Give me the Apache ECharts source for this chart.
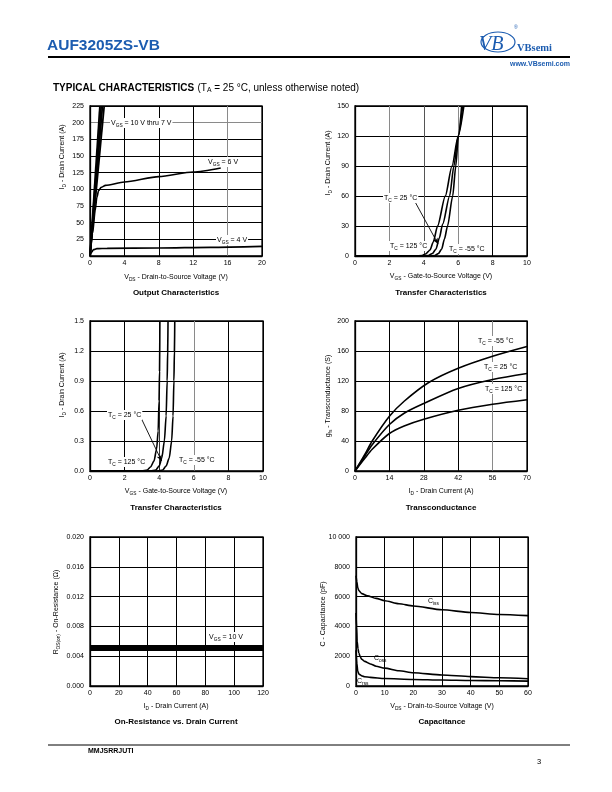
<!DOCTYPE html>
<html>
<head>
<meta charset="utf-8">
<script src="https://cdn.jsdelivr.net/npm/echarts@6/dist/echarts.min.js"></script>
<style>
html,body{margin:0;padding:0;background:#fff;}
#c{width:612px;height:792px;}
</style>
</head>
<body>
<div id="c"></div>
<script>
// ---------- DATA ----------
// Output characteristics (VDS, ID)
const outVgs10 = [[0,0],[1.15,225]];
const outVgs9  = [[0,0],[1.3,225]];
const outVgs8  = [[0,0],[1.45,225]];
const outVgs7  = [[0,0],[1.65,225]];
const outVgs6  = [[0,0],[0.3,34],[0.6,68],[0.8,88],[1.0,98],[1.3,103],[1.8,106],[4,111],[8,119],[12,126],[15.2,132]];
const outVgs4  = [[0,0],[0.2,6],[0.4,9.5],[0.8,11],[2,11.5],[8,12],[14,13],[20,14.5]];

// Transfer characteristics, high current (VGS, ID)
const trHi125 = [[0,0],[3.5,0],[3.9,0.5],[4.1,2],[4.36,6],[4.55,14],[4.8,30],[5.25,60],[5.64,90],[6.0,120],[6.33,150]];
const trHi25  = [[0,0],[3.9,0],[4.26,0.5],[4.5,2.5],[4.71,7],[4.9,18],[5.1,32],[5.5,60],[5.75,90],[6.0,120],[6.26,150]];
const trHiM55 = [[0,0],[4.3,0],[4.65,0.5],[4.85,2.5],[5.04,7],[5.2,17],[5.38,30],[5.68,60],[5.86,90],[6.01,120],[6.2,150]];

// Transfer characteristics, low current (VGS, ID)
const trLo125 = [[0,0],[3.0,0],[3.3,0.01],[3.5,0.04],[3.7,0.1],[3.85,0.22],[3.94,0.4],[3.99,0.7],[4.02,1.0],[4.04,1.5]];
const trLo25  = [[0,0],[3.5,0],[3.8,0.01],[4.0,0.05],[4.15,0.13],[4.3,0.3],[4.4,0.55],[4.46,0.9],[4.49,1.2],[4.51,1.5]];
const trLoM55 = [[0,0],[3.9,0],[4.2,0.01],[4.4,0.05],[4.58,0.13],[4.72,0.3],[4.8,0.55],[4.85,0.9],[4.88,1.2],[4.9,1.5]];

// Transconductance (ID, gfs)
const gfsM55 = [[0,0],[4,22],[7,40],[14,73],[20,93],[30,118],[42,137],[56,153],[70,166]];
const gfs25  = [[0,0],[4,20],[7,35],[14,62],[20,77],[28,90],[42,110],[56,122],[70,130]];
const gfs125 = [[0,0],[4,17],[7,29],[14,50],[20,60],[28,69],[42,81],[56,89],[70,95]];

// On-resistance (ID, RDS(on))
const rdsCurrent = [0,20,40,60,80,100,120];
const rdsValue   = [0.0051,0.0051,0.0051,0.0051,0.0051,0.0051,0.0051];

// Capacitance (VDS, C)
const cIss = [[0,7400],[0.3,7000],[0.6,6600],[1,6400],[2,6200],[4,6050],[7,5880],[10,5720],[15,5520],[20,5370],[30,5120],[40,4930],[50,4800],[60,4720]];
const cOss = [[0,4900],[0.2,4000],[0.4,3000],[0.7,2500],[1,2200],[1.5,1950],[2,1800],[3,1650],[5,1480],[7,1330],[10,1200],[15,1020],[20,890],[30,740],[40,630],[50,550],[60,490]];
const cRss = [[0,2400],[0.3,1500],[0.6,1000],[1,800],[2,680],[3,620],[5,580],[10,500],[20,440],[30,400],[40,370],[50,350],[60,330]];

// Axis ranges [min, max, interval]
const axOutX = [0,20,4],   axOutY = [0,225,25];
const axTrHX = [0,10,2],   axTrHY = [0,150,30];
const axTrLX = [0,10,2],   axTrLY = [0,1.5,0.3];
const axGfsX = [0,70,14],  axGfsY = [0,200,40];
const axRdsX = [0,120,20], axRdsY = [0,0.02,0.004];
const axCapX = [0,60,10],  axCapY = [0,10000,2000];

// ---------- STYLE HELPERS ----------
const FF = "'Liberation Sans', Arial, sans-serif";
const BLUE = '#1c5cb0';
const richBase = {
  n:{fontSize:7, fontFamily:FF, color:'#000', lineHeight:10},
  s:{fontSize:4.8, fontFamily:FF, color:'#000', lineHeight:5, verticalAlign:'bottom'},
  g:{fontSize:7, fontFamily:FF, color:'#444', lineHeight:10},
  gs:{fontSize:4.8, fontFamily:FF, color:'#444', lineHeight:5, verticalAlign:'bottom'}
};
function sub(a, s, b){ return '{n|'+a+'}{s|'+s+'}' + (b ? '{n|'+b+'}' : ''); }
function gsub(a, s, b){ return '{g|'+a+'}{gs|'+s+'}{g|'+b+'}'; }

function txt(x, y, text, opt){
  opt = opt || {};
  return {
    type:'text', x:x, y:y, z:100, rotation: opt.rot || 0, silent:true,
    style:{
      text:text, rich:richBase, fontSize: opt.size || 7, fontFamily: opt.family || FF,
      fontWeight: opt.bold ? 'bold' : 'normal', fill: opt.color || '#000',
      align: opt.align || 'left', verticalAlign: opt.va || 'middle',
      backgroundColor: opt.bg || null, padding: opt.bg ? [0,1,0,1] : 0
    }
  };
}

const grids = [
  {left:90, top:106, width:172, height:150},
  {left:355, top:106, width:172, height:150},
  {left:90, top:321, width:173, height:150},
  {left:355, top:321, width:172, height:150},
  {left:90, top:537, width:173, height:149},
  {left:356, top:537, width:172, height:149}
].map(g => Object.assign({show:true, borderColor:'#000', borderWidth:1.3, backgroundColor:'#fff', containLabel:false}, g));

function axis(idx, r, colors, fmt, isY){
  return {
    type:'value', gridIndex:idx, min:r[0], max:r[1], interval:r[2],
    axisLine:{show:true, onZero:false, lineStyle:{color:'#000', width:1.3}},
    axisTick:{show:false},
    axisLabel:{fontSize:7, fontFamily:FF, color:'#000', margin: isY ? 6 : 4, formatter: fmt},
    splitLine:{show:true, lineStyle:{color: colors || '#000', width:1}}
  };
}

function line(xi, data, w, extra){
  return Object.assign({
    type:'line', xAxisIndex:xi, yAxisIndex:xi, data:data, showSymbol:false, symbol:'none',
    smooth:0.3, animation:false, silent:true,
    lineStyle:{color:'#000', width: w || 1.6}
  }, extra || {});
}
const mono = {smooth:0.25, smoothMonotone:'x'};

const arrow = (from, to) => ({
  silent:true, animation:false, symbol:['none','arrow'], symbolSize:[4,6],
  lineStyle:{color:'#000', width:0.9, type:'solid'}, label:{show:false},
  data:[[{coord:from},{coord:to}]]
});

const G = '#8a8a8a';
const xAxes = [
  axis(0, axOutX, ['#000','#000','#000','#000',G,'#000']),
  axis(1, axTrHX, ['#000',G,'#555',G,'#000','#000']),
  axis(2, axTrLX, ['#000','#000','#333',G,'#000','#000']),
  axis(3, axGfsX, ['#000','#000','#000','#000',G,'#000']),
  axis(4, axRdsX),
  axis(5, axCapX)
];
const yAxes = [
  axis(0, axOutY, ['#000','#000','#000','#000','#000','#000','#000','#000',G,'#000'], null, true),
  axis(1, axTrHY, null, null, true),
  axis(2, axTrLY, null, v => v.toFixed(1), true),
  axis(3, axGfsY, null, null, true),
  axis(4, axRdsY, null, v => v.toFixed(3), true),
  axis(5, axCapY, null, v => v === 10000 ? '10 000' : String(v), true)
];

const series = [
  line(0, outVgs10, 1.8, {smooth:false}),
  line(0, outVgs9, 1.8, {smooth:false}),
  line(0, outVgs8, 1.8, {smooth:false}),
  line(0, outVgs7, 1.8, {smooth:false}),
  line(0, outVgs6, 1.6, mono),
  line(0, outVgs4, 1.6, mono),
  line(1, trHi125, 1.6, mono),
  line(1, trHi25, 1.6, Object.assign({markLine: arrow([3.37,58],[4.83,12])}, mono)),
  line(1, trHiM55, 1.6, mono),
  line(2, trLo125, 1.6, mono),
  line(2, trLo25, 1.6, Object.assign({markLine: arrow([2.9,0.55],[4.14,0.1])}, mono)),
  line(2, trLoM55, 1.6, mono),
  line(3, gfsM55, 1.6),
  line(3, gfs25, 1.6),
  line(3, gfs125, 1.6),
  line(4, rdsCurrent.map((x,i)=>[x, rdsValue[i]]), 6, {smooth:false}),
  line(5, cIss, 1.6, mono),
  line(5, cOss, 1.6, mono),
  line(5, cRss, 1.6, mono)
];

const graphics = [
  // header
  txt(47, 46, 'AUF3205ZS-VB', {size:15.5, bold:true, color:BLUE}),
  {type:'line', z:100, silent:true, shape:{x1:48, y1:57, x2:570, y2:57}, style:{stroke:'#000', lineWidth:2}},
  {type:'text', z:100, silent:true, x:479, y:45, style:{text:'VB', fontSize:20, fontStyle:'italic', fontFamily:"'Liberation Serif', serif", fill:BLUE, align:'left', verticalAlign:'middle'}},
  {type:'ellipse', z:100, silent:true, shape:{cx:498, cy:42, rx:17, ry:10}, style:{fill:'none', stroke:BLUE, lineWidth:1.2}},
  txt(517, 48, 'VBsemi', {size:10.5, bold:true, color:BLUE, family:"'Liberation Serif', serif"}),
  txt(514, 28, '®', {size:5, color:BLUE}),
  txt(570, 64, 'www.VBsemi.com', {size:7, bold:true, color:BLUE, align:'right'}),
  // section heading
  {type:'text', z:100, silent:true, x:53, y:88, style:{
    text:'{b|TYPICAL CHARACTERISTICS} {r|(T}{rs|A}{r| = 25 °C, unless otherwise noted)}',
    rich:{
      b:{fontSize:10, fontWeight:'bold', fontFamily:FF, color:'#000', lineHeight:12},
      r:{fontSize:10, fontFamily:FF, color:'#000', lineHeight:12},
      rs:{fontSize:6.8, fontFamily:FF, color:'#000', lineHeight:6, verticalAlign:'bottom'}
    }, align:'left', verticalAlign:'middle'}},

  // chart 1
  txt(110, 123, sub('V','GS',' = 10 V thru 7 V'), {bg:'#fff'}),
  txt(207, 162, sub('V','GS',' = 6 V'), {bg:'#fff'}),
  txt(216, 240, sub('V','GS',' = 4 V'), {bg:'#fff'}),
  txt(176, 277, gsub('V','DS',' - Drain-to-Source Voltage (V)'), {align:'center'}),
  txt(62, 157, gsub('I','D',' - Drain Current (A)'), {align:'center', rot:Math.PI/2}),
  txt(176, 293, 'Output Characteristics', {size:8, bold:true, align:'center'}),

  // chart 2
  txt(383, 198, sub('T','C',' = 25 °C'), {bg:'#fff'}),
  txt(389, 246, sub('T','C',' = 125 °C'), {bg:'#fff'}),
  txt(448, 249, sub('T','C',' = -55 °C'), {bg:'#fff'}),
  txt(441, 276, gsub('V','GS',' - Gate-to-Source Voltage (V)'), {align:'center'}),
  txt(328, 163, gsub('I','D',' - Drain Current (A)'), {align:'center', rot:Math.PI/2}),
  txt(441, 293, 'Transfer Characteristics', {size:8, bold:true, align:'center'}),

  // chart 3
  txt(107, 415, sub('T','C',' = 25 °C'), {bg:'#fff'}),
  txt(107, 462, sub('T','C',' = 125 °C'), {bg:'#fff'}),
  txt(178, 460, sub('T','C',' = -55 °C'), {bg:'#fff'}),
  txt(176, 491, gsub('V','GS',' - Gate-to-Source Voltage (V)'), {align:'center'}),
  txt(62, 385, gsub('I','D',' - Drain Current (A)'), {align:'center', rot:Math.PI/2}),
  txt(176, 508, 'Transfer Characteristics', {size:8, bold:true, align:'center'}),

  // chart 4
  txt(477, 341, sub('T','C',' = -55 °C'), {bg:'#fff'}),
  txt(483, 367, sub('T','C',' = 25 °C'), {bg:'#fff'}),
  txt(484, 389, sub('T','C',' = 125 °C'), {bg:'#fff'}),
  txt(441, 491, gsub('I','D',' - Drain Current (A)'), {align:'center'}),
  txt(328, 396, gsub('g','fs',' - Transconductance (S)'), {align:'center', rot:Math.PI/2}),
  txt(441, 508, 'Transconductance', {size:8, bold:true, align:'center'}),

  // chart 5
  txt(208, 637, sub('V','GS',' = 10 V'), {bg:'#fff'}),
  txt(176, 706, gsub('I','D',' - Drain Current (A)'), {align:'center'}),
  txt(56, 612, gsub('R','DS(on)',' - On-Resistance (Ω)'), {align:'center', rot:Math.PI/2}),
  txt(176, 722, 'On-Resistance vs. Drain Current', {size:8, bold:true, align:'center'}),

  // chart 6
  txt(428, 601, sub('C','iss',''), {}),
  txt(374, 658, sub('C','oss',''), {}),
  txt(357, 681, sub('C','rss',''), {}),
  txt(442, 706, gsub('V','DS',' - Drain-to-Source Voltage (V)'), {align:'center'}),
  txt(323, 614, '{g|C - Capacitance (pF)}', {align:'center', rot:Math.PI/2}),
  txt(442, 722, 'Capacitance', {size:8, bold:true, align:'center'}),

  // footer
  {type:'line', z:100, silent:true, shape:{x1:48, y1:745, x2:570, y2:745}, style:{stroke:'#000', lineWidth:1}},
  txt(88, 751, 'MMJSRRJUTI', {size:7, bold:true}),
  txt(537, 762, '3', {size:7.5})
];

const chart = echarts.init(document.getElementById('c'), null, {renderer:'canvas'});
chart.setOption({
  animation:false,
  backgroundColor:'#fff',
  grid: grids,
  xAxis: xAxes,
  yAxis: yAxes,
  series: series,
  graphic: graphics
});
</script>
</body>
</html>
